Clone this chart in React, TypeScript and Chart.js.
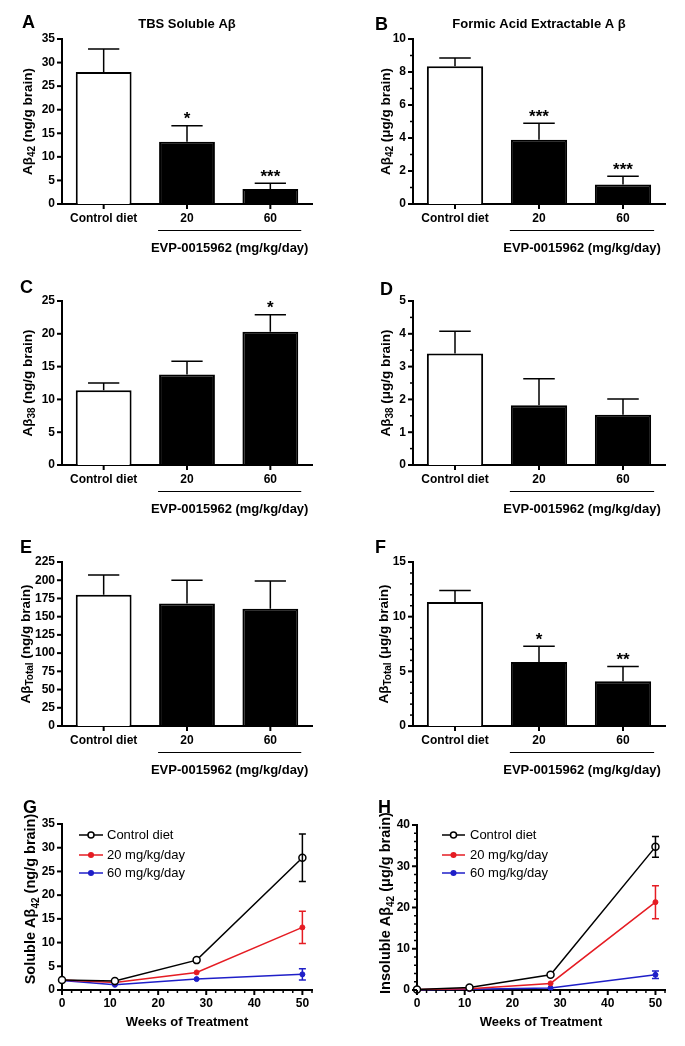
import React, { useEffect, useRef } from "react";
import { Chart, registerables } from "chart.js";

Chart.register(...registerables);

const FONT = "'Liberation Sans', Arial, Helvetica, sans-serif";
const RED = "#e51c23";
const BLUE = "#1f1fc8";

// ---------------- data ----------------
const barCategories = ["Control diet", "20", "60"];
const doseAxisLabel = "EVP-0015962 (mg/kg/day)";

const aMeans = [28.0, 13.2, 3.2];
const aSem = [4.9, 3.4, 1.2];
const aStars = ["", "*", "***"];

const bMeans = [8.35, 3.9, 1.18];
const bSem = [0.5, 1.0, 0.5];
const bStars = ["", "***", "***"];

const cMeans = [11.4, 13.8, 20.3];
const cSem = [1.1, 2.0, 2.6];
const cStars = ["", "", "*"];

const dMeans = [3.4, 1.82, 1.53];
const dSem = [0.68, 0.81, 0.48];
const dStars = ["", "", ""];

const eMeans = [180, 168, 161];
const eSem = [27, 32, 38];
const eStars = ["", "", ""];

const fMeans = [11.35, 5.85, 4.1];
const fSem = [1.05, 1.45, 1.35];
const fStars = ["", "*", "**"];

const weeks = [0, 11, 28, 50];
const seriesNames = ["Control diet", "20 mg/kg/day", "60 mg/kg/day"];

const gControl = [2.1, 1.9, 6.3, 27.9];
const gDose20 = [2.1, 1.6, 3.7, 13.2];
const gDose60 = [2.0, 1.1, 2.3, 3.3];
const gControlSem = [0, 0, 0, 5.0];
const gDose20Sem = [0, 0, 0, 3.4];
const gDose60Sem = [0, 0, 0, 1.2];

const hControl = [0.1, 0.6, 3.7, 34.7];
const hDose20 = [0.1, 0.3, 1.6, 21.3];
const hDose60 = [0.05, 0.2, 0.5, 3.7];
const hControlSem = [0, 0, 0, 2.5];
const hDose20Sem = [0, 0, 0, 4.0];
const hDose60Sem = [0, 0, 0, 0.9];

// ---------------- helpers ----------------
type Rect = { l: number; r: number; t: number; b: number };

interface BaseSpec {
  x: number; y: number; w: number; h: number;
  area: Rect;
  letter: string; letterX: number; letterY: number;
  yTitle: [string, string, string];
  yTitleX: number; yTitleY?: number; yTitleSize: number;
  yMax: number; yMajor: number; yMinor: number;
}
interface BarSpec extends BaseSpec {
  kind: "bar";
  title?: string;
  means: number[]; sem: number[]; stars: string[];
}
interface LineSeries { values: number[]; sem: number[]; color: string; open: boolean }
interface LineSpec extends BaseSpec {
  kind: "line";
  xMax: number; xMajor: number; xMinor: number;
  series: LineSeries[];
  legendX1: number; legendX2: number; legendTextX: number; legendRows: number[];
}
type Spec = BarSpec | LineSpec;

function isMajor(v: number, step: number) {
  const q = v / step;
  return Math.abs(q - Math.round(q)) < 1e-6;
}

function drawTicks(ctx: CanvasRenderingContext2D, scale: any, majorStep: number | null) {
  ctx.save();
  ctx.strokeStyle = "#000";
  scale.ticks.forEach((t: any, i: number) => {
    const major = majorStep == null ? true : isMajor(t.value, majorStep);
    const len = major ? 5 : 3;
    ctx.lineWidth = major ? 2 : 1.5;
    const p = scale.getPixelForTick(i);
    ctx.beginPath();
    if (scale.axis === "y") {
      ctx.moveTo(scale.right, p);
      ctx.lineTo(scale.right - len, p);
    } else {
      ctx.moveTo(p, scale.top);
      ctx.lineTo(p, scale.top + len);
    }
    ctx.stroke();
  });
  ctx.restore();
}

function drawRich(ctx: CanvasRenderingContext2D, segs: [string, string, string], cx: number, cy: number, size: number) {
  ctx.save();
  ctx.translate(cx, cy);
  ctx.rotate(-Math.PI / 2);
  const big = `bold ${size}px ${FONT}`;
  const small = `bold ${Math.round(size * 0.72)}px ${FONT}`;
  const parts = [
    { t: segs[0], f: big, dy: 0 },
    { t: segs[1], f: small, dy: size * 0.25 },
    { t: segs[2], f: big, dy: 0 },
  ];
  let total = 0;
  const ws = parts.map((p) => {
    ctx.font = p.f;
    const w = ctx.measureText(p.t).width;
    total += w;
    return w;
  });
  let x = -total / 2;
  ctx.fillStyle = "#000";
  ctx.textAlign = "left";
  ctx.textBaseline = "alphabetic";
  const base = size * 0.36;
  parts.forEach((p, i) => {
    ctx.font = p.f;
    ctx.fillText(p.t, x, base + p.dy);
    x += ws[i];
  });
  ctx.restore();
}

function decorPlugin(s: Spec) {
  return {
    id: "decor" + s.letter,
    afterDraw(chart: any) {
      const ctx: CanvasRenderingContext2D = chart.ctx;
      const xs = chart.scales.x;
      const ys = chart.scales.y;
      const ca = chart.chartArea;

      // tick marks
      drawTicks(ctx, ys, s.yMajor);
      drawTicks(ctx, xs, s.kind === "line" ? s.xMajor : null);

      // panel letter
      ctx.save();
      ctx.fillStyle = "#000";
      ctx.font = `bold 18px ${FONT}`;
      ctx.textAlign = "left";
      ctx.textBaseline = "alphabetic";
      ctx.fillText(s.letter, s.letterX, s.letterY);
      ctx.restore();

      // y title
      drawRich(ctx, s.yTitle, s.yTitleX, s.yTitleY ?? (ca.top + ca.bottom) / 2, s.yTitleSize);

      if (s.kind === "bar") {
        const meta = chart.getDatasetMeta(0);
        ctx.save();
        ctx.strokeStyle = "#000";
        ctx.fillStyle = "#000";
        ctx.lineWidth = 1.5;
        s.means.forEach((m, i) => {
          const el = meta.data[i];
          const yTop = ys.getPixelForValue(m);
          const yErr = ys.getPixelForValue(m + s.sem[i]);
          const half = el.width * 0.28;
          ctx.beginPath();
          ctx.moveTo(el.x, yTop);
          ctx.lineTo(el.x, yErr);
          ctx.moveTo(el.x - half, yErr);
          ctx.lineTo(el.x + half, yErr);
          ctx.stroke();
          if (s.stars[i]) {
            ctx.font = `bold 17px ${FONT}`;
            ctx.textAlign = "center";
            ctx.textBaseline = "alphabetic";
            ctx.fillText(s.stars[i], el.x, yErr - 1.5);
          }
        });
        // bracket under doses
        const e1 = meta.data[1];
        const e2 = meta.data[2];
        const x1 = e1.x - e1.width / 2 - 1;
        const x2 = e2.x + e2.width / 2 + 3;
        const by = Math.round(ca.bottom + 26) + 0.5;
        ctx.lineWidth = 1;
        ctx.beginPath();
        ctx.moveTo(x1, by);
        ctx.lineTo(x2, by);
        ctx.stroke();
        ctx.font = `bold 13px ${FONT}`;
        ctx.textAlign = "center";
        ctx.textBaseline = "alphabetic";
        ctx.fillText(doseAxisLabel, (x1 + x2) / 2, ca.bottom + 48);
        if (s.title) {
          ctx.font = `bold 13px ${FONT}`;
          ctx.fillText(s.title, (ca.left + ca.right) / 2, 28);
        }
        ctx.restore();
      } else {
        ctx.save();
        // error bars
        s.series.forEach((ser) => {
          ctx.strokeStyle = ser.color;
          ctx.lineWidth = 1.5;
          ser.values.forEach((v, i) => {
            if (!ser.sem[i]) return;
            const px = xs.getPixelForValue(weeks[i]);
            const y1 = ys.getPixelForValue(v + ser.sem[i]);
            const y2 = ys.getPixelForValue(v - ser.sem[i]);
            ctx.beginPath();
            ctx.moveTo(px, y1);
            ctx.lineTo(px, y2);
            ctx.moveTo(px - 3.5, y1);
            ctx.lineTo(px + 3.5, y1);
            ctx.moveTo(px - 3.5, y2);
            ctx.lineTo(px + 3.5, y2);
            ctx.stroke();
          });
        });
        // legend
        s.series.forEach((ser, k) => {
          const y = s.legendRows[k];
          ctx.strokeStyle = ser.color;
          ctx.lineWidth = 1.5;
          ctx.beginPath();
          ctx.moveTo(s.legendX1, y);
          ctx.lineTo(s.legendX2, y);
          ctx.stroke();
          const cx = (s.legendX1 + s.legendX2) / 2;
          ctx.beginPath();
          ctx.arc(cx, y, ser.open ? 3 : 2.3, 0, Math.PI * 2);
          ctx.fillStyle = ser.open ? "#fff" : ser.color;
          ctx.fill();
          ctx.stroke();
          ctx.fillStyle = "#000";
          ctx.font = `13px ${FONT}`;
          ctx.textAlign = "left";
          ctx.textBaseline = "middle";
          ctx.fillText(seriesNames[k], s.legendTextX, y + 0.5);
        });
        // x title
        ctx.fillStyle = "#000";
        ctx.font = `bold 13px ${FONT}`;
        ctx.textAlign = "center";
        ctx.textBaseline = "alphabetic";
        ctx.fillText("Weeks of Treatment", (ca.left + ca.right) / 2, ca.bottom + 36);
        ctx.restore();
      }
    },
  };
}

const tickFont = { family: FONT, size: 12, weight: "bold" as const };

function yScale(s: Spec) {
  return {
    type: "linear",
    min: 0,
    max: s.yMax,
    grid: { display: false, drawTicks: false },
    border: { display: true, color: "#000", width: 2 },
    ticks: {
      stepSize: s.yMinor,
      autoSkip: false,
      maxTicksLimit: 200,
      color: "#000",
      font: tickFont,
      padding: 7,
      callback: (v: any) => (isMajor(Number(v), s.yMajor) ? String(v) : ""),
    },
    afterFit: (sc: any) => {
      sc.width = s.area.l;
    },
  };
}

function buildConfig(s: Spec): any {
  const common = {
    responsive: false,
    animation: false,
    devicePixelRatio: 1,
    events: [],
    layout: { padding: { left: 0, top: s.area.t, right: s.w - s.area.r, bottom: 0 } },
    plugins: { legend: { display: false }, tooltip: { enabled: false } },
  };
  if (s.kind === "bar") {
    return {
      type: "bar",
      data: {
        labels: barCategories,
        datasets: [
          {
            data: s.means,
            backgroundColor: ["#ffffff", "#000000", "#000000"],
            borderColor: "#000000",
            borderWidth: 2,
            borderSkipped: "start",
            barPercentage: 0.67,
            categoryPercentage: 1,
          },
        ],
      },
      options: {
        ...common,
        scales: {
          x: {
            type: "category",
            offset: true,
            grid: { display: false, drawTicks: false },
            border: { display: true, color: "#000", width: 2 },
            ticks: { color: "#000", font: tickFont, padding: 7, maxRotation: 0, minRotation: 0, autoSkip: false },
            afterFit: (sc: any) => {
              sc.height = s.h - s.area.b;
            },
          },
          y: yScale(s),
        },
      },
      plugins: [decorPlugin(s)],
    };
  }
  return {
    type: "line",
    data: {
      datasets: s.series.map((ser, k) => ({
        label: seriesNames[k],
        data: weeks.map((w, i) => ({ x: w, y: ser.values[i] })),
        borderColor: ser.color,
        backgroundColor: ser.color,
        borderWidth: 1.5,
        pointRadius: ser.open ? 3.5 : 2.5,
        pointBackgroundColor: ser.open ? "#ffffff" : ser.color,
        pointBorderColor: ser.color,
        pointBorderWidth: ser.open ? 1.5 : 1,
        clip: false,
        tension: 0,
      })),
    },
    options: {
      ...common,
      scales: {
        x: {
          type: "linear",
          min: 0,
          max: s.xMax,
          grid: { display: false, drawTicks: false },
          border: { display: true, color: "#000", width: 2 },
          ticks: {
            stepSize: s.xMinor,
            autoSkip: false,
            maxTicksLimit: 200,
            maxRotation: 0,
            minRotation: 0,
            color: "#000",
            font: tickFont,
            padding: 6,
            callback: (v: any) => (isMajor(Number(v), s.xMajor) ? String(v) : ""),
          },
          afterFit: (sc: any) => {
            sc.height = s.h - s.area.b;
          },
        },
        y: yScale(s),
      },
    },
    plugins: [decorPlugin(s)],
  };
}

// ---------------- panel layout ----------------
const panels: Spec[] = [
  {
    kind: "bar", x: 0, y: 0, w: 340, h: 260, area: { l: 62, r: 312, t: 39, b: 204 },
    letter: "A", letterX: 22, letterY: 28, title: "TBS Soluble Aβ",
    yTitle: ["Aβ", "42", " (ng/g brain)"], yTitleX: 27, yTitleSize: 13.5,
    yMax: 35, yMajor: 5, yMinor: 5, means: aMeans, sem: aSem, stars: aStars,
  },
  {
    kind: "bar", x: 340, y: 0, w: 345, h: 260, area: { l: 73, r: 325, t: 39, b: 204 },
    letter: "B", letterX: 35, letterY: 30, title: "Formic Acid Extractable A β",
    yTitle: ["Aβ", "42", " (μg/g brain)"], yTitleX: 45, yTitleSize: 13.5,
    yMax: 10, yMajor: 2, yMinor: 1, means: bMeans, sem: bSem, stars: bStars,
  },
  {
    kind: "bar", x: 0, y: 260, w: 340, h: 260, area: { l: 62, r: 312, t: 41, b: 205 },
    letter: "C", letterX: 20, letterY: 33,
    yTitle: ["Aβ", "38", " (ng/g brain)"], yTitleX: 27, yTitleSize: 13.5,
    yMax: 25, yMajor: 5, yMinor: 5, means: cMeans, sem: cSem, stars: cStars,
  },
  {
    kind: "bar", x: 340, y: 260, w: 345, h: 260, area: { l: 73, r: 325, t: 41, b: 205 },
    letter: "D", letterX: 40, letterY: 35,
    yTitle: ["Aβ", "38", " (μg/g brain)"], yTitleX: 45, yTitleSize: 13.5,
    yMax: 5, yMajor: 1, yMinor: 0.5, means: dMeans, sem: dSem, stars: dStars,
  },
  {
    kind: "bar", x: 0, y: 520, w: 340, h: 260, area: { l: 62, r: 312, t: 42, b: 206 },
    letter: "E", letterX: 20, letterY: 33,
    yTitle: ["Aβ", "Total", " (ng/g brain)"], yTitleX: 25, yTitleSize: 13.5,
    yMax: 225, yMajor: 25, yMinor: 25, means: eMeans, sem: eSem, stars: eStars,
  },
  {
    kind: "bar", x: 340, y: 520, w: 345, h: 260, area: { l: 73, r: 325, t: 42, b: 206 },
    letter: "F", letterX: 35, letterY: 33,
    yTitle: ["Aβ", "Total", " (μg/g brain)"], yTitleX: 43, yTitleSize: 13.5,
    yMax: 15, yMajor: 5, yMinor: 1, means: fMeans, sem: fSem, stars: fStars,
  },
  {
    kind: "line", x: 0, y: 780, w: 340, h: 266, area: { l: 62, r: 312, t: 44, b: 210 },
    letter: "G", letterX: 23, letterY: 33,
    yTitle: ["Soluble Aβ", "42", " (ng/g brain)"], yTitleX: 30, yTitleY: 119, yTitleSize: 14.5,
    yMax: 35, yMajor: 5, yMinor: 5, xMax: 52, xMajor: 10, xMinor: 2,
    series: [
      { values: gControl, sem: gControlSem, color: "#000000", open: true },
      { values: gDose20, sem: gDose20Sem, color: RED, open: false },
      { values: gDose60, sem: gDose60Sem, color: BLUE, open: false },
    ],
    legendX1: 79, legendX2: 103, legendTextX: 107, legendRows: [55, 75, 93],
  },
  {
    kind: "line", x: 340, y: 780, w: 345, h: 266, area: { l: 77, r: 325, t: 45, b: 210 },
    letter: "H", letterX: 38, letterY: 33,
    yTitle: ["Insoluble Aβ", "42", " (μg/g brain)"], yTitleX: 45, yTitleY: 123, yTitleSize: 14.5,
    yMax: 40, yMajor: 10, yMinor: 2, xMax: 52, xMajor: 10, xMinor: 2,
    series: [
      { values: hControl, sem: hControlSem, color: "#000000", open: true },
      { values: hDose20, sem: hDose20Sem, color: RED, open: false },
      { values: hDose60, sem: hDose60Sem, color: BLUE, open: false },
    ],
    legendX1: 102, legendX2: 125, legendTextX: 130, legendRows: [55, 75, 93],
  },
];

function PanelCanvas({ spec }: { spec: Spec }) {
  const ref = useRef<HTMLCanvasElement | null>(null);
  useEffect(() => {
    if (!ref.current) return;
    const chart = new Chart(ref.current, buildConfig(spec));
    return () => chart.destroy();
  }, [spec]);
  return (
    <canvas
      ref={ref}
      width={spec.w}
      height={spec.h}
      style={{ position: "absolute", left: spec.x, top: spec.y, width: spec.w, height: spec.h, display: "block" }}
    />
  );
}

export default function App() {
  return (
    <div style={{ position: "absolute", left: 0, top: 0, width: 685, height: 1046, background: "#fff", overflow: "hidden" }}>
      {panels.map((p) => (
        <PanelCanvas key={p.letter} spec={p} />
      ))}
    </div>
  );
}
